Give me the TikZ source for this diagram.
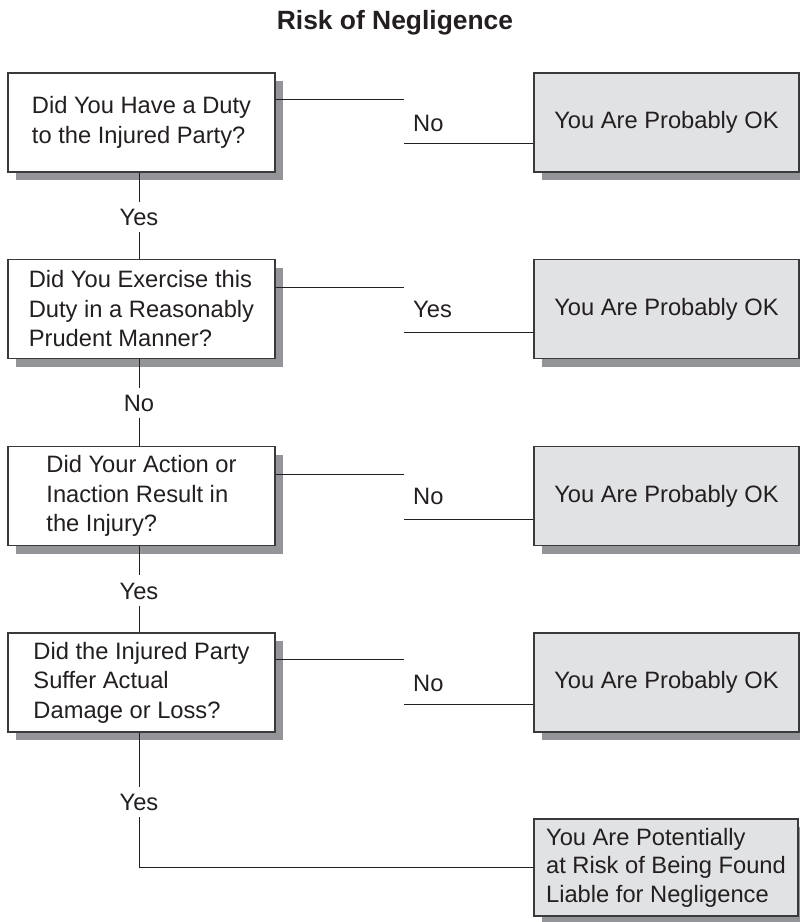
\documentclass[tikz,border=0pt]{standalone}
\usepackage{fontspec}
\setmainfont{Liberation Sans}
\usetikzlibrary{shadows}
\definecolor{ink}{HTML}{231F20}
\definecolor{edge}{HTML}{3A3A3C}
\definecolor{boxfill}{HTML}{E1E2E4}
\definecolor{shade}{HTML}{939598}
\begin{document}
\begin{tikzpicture}[x=1pt,y=-1pt,
  every node/.style={font=\fontsize{23.7}{29.5}\selectfont, text=ink},
  qbox/.style={draw=edge, line width=1.2pt, fill=white, minimum width=267pt,
    minimum height=99pt, align=left, inner sep=0pt,
    drop shadow={shadow xshift=8pt, shadow yshift=-8pt, fill=shade, opacity=1}},
  abox/.style={qbox, fill=boxfill, minimum width=265pt, align=center},
  lbl/.style={inner xsep=0pt, inner ysep=6.5pt, text height=17pt, text depth=0pt},
  conn/.style={draw=ink, line width=1pt}]
\useasboundingbox (0,0) rectangle (800,922);

\node[font=\fontsize{26.4}{30}\selectfont\bfseries, anchor=base] (title) at (395,29) {Risk of Negligence};

% question boxes
\node[qbox] (q1) at (141.5,122.5) {Did You Have a Duty\\to the Injured Party?};
\node[qbox] (q2) at (141.5,309) {Did You Exercise this\\Duty in a Reasonably\\Prudent Manner?};
\node[qbox] (q3) at (141.5,496) {Did Your Action or\\Inaction Result in\\the Injury?};
\node[qbox] (q4) at (141.5,682.5) {Did the Injured Party\\Suffer Actual\\Damage or Loss?};

% answer boxes
\node[abox] (r1) at (666.5,122.5) {You Are Probably OK};
\node[abox] (r2) at (666.5,309) {You Are Probably OK};
\node[abox] (r3) at (666.5,496) {You Are Probably OK};
\node[abox] (r4) at (666.5,682.5) {You Are Probably OK};
\node[abox, minimum width=264pt, minimum height=97pt, inner xsep=11pt, align=left,
  font=\fontsize{23.7}{28.5}\selectfont] (fin) at (666,867.5)
  {You Are Potentially\\at Risk of Being Found\\Liable for Negligence};

% vertical labels
\node[lbl] (v1) at (139,217) {Yes};
\node[lbl] (v2) at (139,403) {No};
\node[lbl] (v3) at (139,590.5) {Yes};
\node[lbl] (v4) at (139,802) {Yes};

% horizontal labels
\node[lbl, anchor=west] (h1) at (413,122.5) {No};
\node[lbl, anchor=west] (h2) at (413,309) {Yes};
\node[lbl, anchor=west] (h3) at (413,496) {No};
\node[lbl, anchor=west] (h4) at (413,682.5) {No};

% bend points of horizontal connectors
\coordinate (a1) at (404,99);  \coordinate (b1) at (404,143);
\coordinate (a2) at (404,287); \coordinate (b2) at (404,332);
\coordinate (a3) at (404,474); \coordinate (b3) at (404,519);
\coordinate (a4) at (404,659); \coordinate (b4) at (404,704);

\foreach \i in {1,2,3,4}{
  \draw[conn] (a\i -| q\i.east) -- (a\i);
  \draw[conn] (b\i) -- (b\i -| r\i.west);
}

% vertical connectors
\draw[conn] (q1.south -| v1.north) -- (v1.north);
\draw[conn] (v1.south) -- (v1.south |- q2.north);
\draw[conn] (q2.south -| v2.north) -- (v2.north);
\draw[conn] (v2.south) -- (v2.south |- q3.north);
\draw[conn] (q3.south -| v3.north) -- (v3.north);
\draw[conn] (v3.south) -- (v3.south |- q4.north);
\draw[conn] (q4.south -| v4.north) -- (v4.north);
\draw[conn] (v4.south) -- (v4.south |- fin.west) -- (fin.west);
\end{tikzpicture}
\end{document}
